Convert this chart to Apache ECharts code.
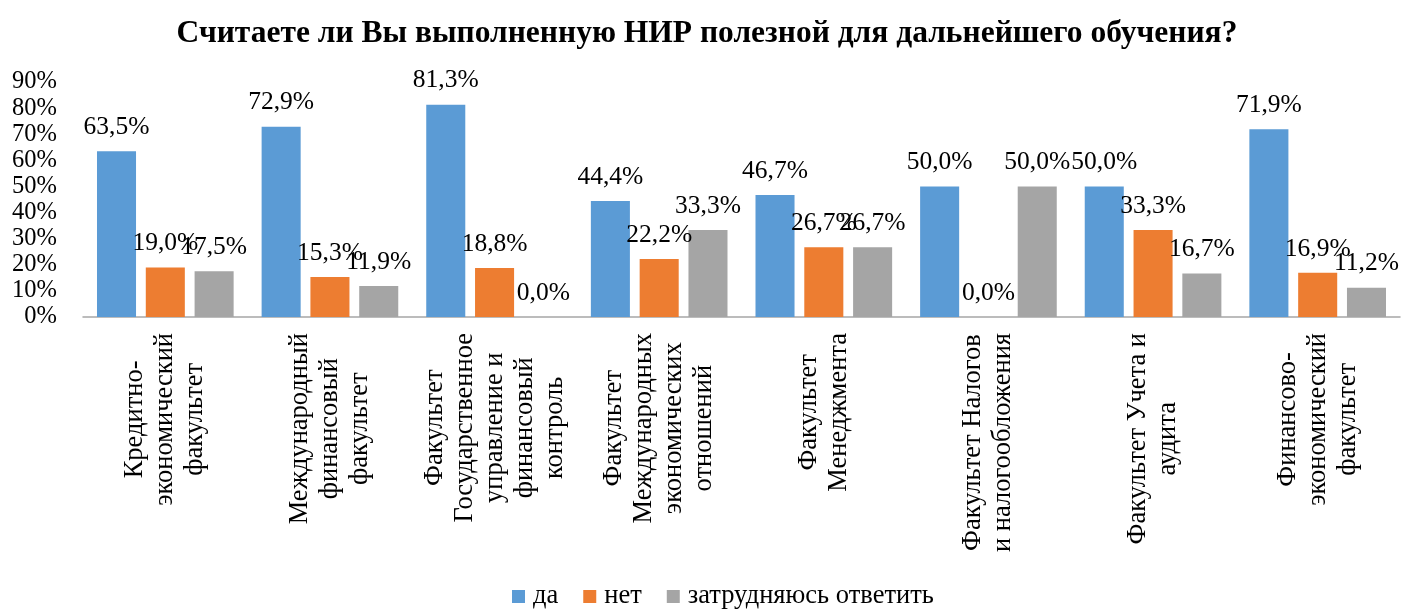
<!DOCTYPE html>
<html>
<head>
<meta charset="utf-8">
<script src="https://cdn.jsdelivr.net/npm/echarts@6/dist/echarts.min.js"></script>
<style>
  html, body { margin: 0; padding: 0; background: #fff; }
  #chart { width: 1414px; height: 610px; }
</style>
</head>
<body>
<div id="chart"></div>
<script>
const categories = [
  'Кредитно-\nэкономический\nфакультет',
  'Международный\nфинансовый\nфакультет',
  'Факультет\nГосударственное\nуправление и\nфинансовый\nконтроль',
  'Факультет\nМеждународных\nэкономических\nотношений',
  'Факультет\nМенеджмента',
  'Факультет Налогов\nи налогообложения',
  'Факультет Учета и\nаудита',
  'Финансово-\nэкономический\nфакультет'
];
const yesValues = [63.5, 72.9, 81.3, 44.4, 46.7, 50.0, 50.0, 71.9];
const noValues = [19.0, 15.3, 18.8, 22.2, 26.7, 0.0, 33.3, 16.9];
const unsureValues = [17.5, 11.9, 0.0, 33.3, 26.7, 50.0, 16.7, 11.2];
const seriesNames = ['да', 'нет', 'затрудняюсь ответить'];

const font = '"Liberation Serif", "Times New Roman", serif';
const pct = v => v.toFixed(1).replace('.', ',') + '%';

const myChart = echarts.init(document.getElementById('chart'));

const barSeries = (name, data) => ({
  name: name,
  type: 'bar',
  data: data,
  barGap: '25%',
  barCategoryGap: '17%',
  label: {
    show: true,
    position: 'top',
    distance: 11,
    color: '#000',
    fontFamily: font,
    fontSize: 25.5,
    formatter: p => pct(p.value)
  }
});

myChart.setOption({
  animation: false,
  color: ['#5B9BD5', '#ED7D31', '#A5A5A5'],
  title: {
    text: 'Считаете ли Вы выполненную НИР полезной для дальнейшего обучения?',
    left: 'center',
    top: 13,
    textStyle: {
      fontFamily: font,
      fontSize: 31.5,
      fontWeight: 'bold',
      color: '#000'
    }
  },
  legend: {
    top: 578,
    left: 507,
    icon: 'rect',
    itemWidth: 13,
    itemHeight: 13,
    itemGap: 25,
    textStyle: { fontFamily: font, fontSize: 26.5, color: '#000', padding: [0, 0, 0, 3] }
  },
  grid: {
    left: 83,
    right: 14,
    top: 82,
    bottom: 293
  },
  xAxis: {
    type: 'category',
    data: categories,
    axisTick: { show: false },
    axisLine: { lineStyle: { color: '#A6A6A6', width: 1.5 } },
    axisLabel: {
      interval: 0,
      rotate: 90,
      margin: 16,
      color: '#000',
      formatter: v => v.split('\n').map(l => '{c|' + l + '}').join('\n'),
      rich: {
        c: {
          align: 'center',
          fontFamily: font,
          fontSize: 26.5,
          lineHeight: 30,
          color: '#000'
        }
      }
    }
  },
  yAxis: {
    type: 'value',
    min: 0,
    max: 90,
    interval: 10,
    splitLine: { show: false },
    axisLine: { show: false },
    axisTick: { show: false },
    axisLabel: {
      margin: 26,
      color: '#000',
      fontFamily: font,
      fontSize: 24.5,
      formatter: v => v + '%'
    }
  },
  series: [
    barSeries(seriesNames[0], yesValues),
    barSeries(seriesNames[1], noValues),
    barSeries(seriesNames[2], unsureValues)
  ]
});
</script>
</body>
</html>
